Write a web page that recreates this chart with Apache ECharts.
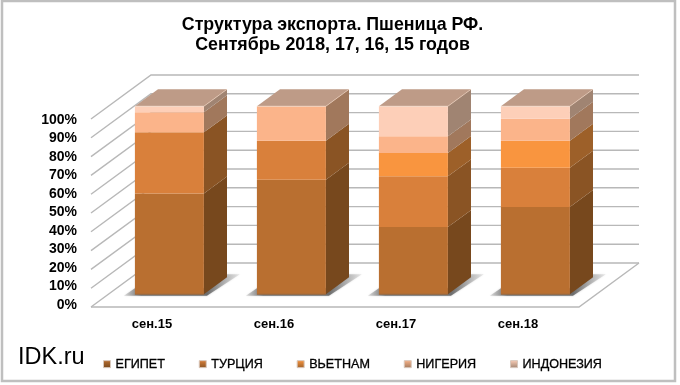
<!DOCTYPE html>
<html><head><meta charset="utf-8">
<style>html,body{margin:0;padding:0;background:#fff}#c{width:680px;height:385px}</style>
<script src="https://cdn.jsdelivr.net/npm/echarts@6/dist/echarts.min.js"></script>
</head><body><div id="c"></div>
<script>
const categories = ['сен.15','сен.16','сен.17','сен.18'];
const egypt     = [53.6, 60.9, 35.7, 46.4];
const turkey    = [32.5, 20.8, 27.0, 20.9];
const vietnam   = [0,    0,    12.4, 14.4];
const nigeria   = [10.7, 18.3, 8.9,  11.7];
const indonesia = [3.2,  0,    16.0, 6.6];
const ticks = [0,10,20,30,40,50,60,70,80,90,100];

const names = ['ЕГИПЕТ','ТУРЦИЯ','ВЬЕТНАМ','НИГЕРИЯ','ИНДОНЕЗИЯ'];
const valueLists = [egypt, turkey, vietnam, nigeria, indonesia];
const frontColors = ['#B96F30','#D9803B','#F9953F','#FBB48A','#FDCFB8'];
const sideColors  = ['#77481D','#8A5424','#9D6029','#A1785C','#A08472'];
const topColor = '#BE9B87';

// Depth of the 3D box, as offsets from the axis plane
const DX = 60, DY = -44;
const NEAR = 0.29, FAR = 0.675;
const BAR = 69;

function shift(p, d){ return [p[0] + DX*d, p[1] + DY*d]; }

function wallItem(params, api){
  const g = params.coordSys;
  const y = api.coord([0, api.value(0)])[1];
  const lineStyle = {stroke:'#B8B8B8', lineWidth:1.4, fill:null};
  const kids = [
    {type:'polyline', shape:{points:[[g.x,y],[g.x+DX,y+DY],[g.x+g.width+DX,y+DY]]}, style:lineStyle}
  ];
  if (api.value(0) === 0) {
    kids.push({type:'polyline', shape:{points:[[g.x,y],[g.x+g.width,y],[g.x+g.width+DX,y+DY]]}, style:lineStyle});
  }
  return {type:'group', children:kids};
}

function shadowItem(params, api){
  const c = api.coord([api.value(0), 0]);
  const f = shift(c, NEAR);
  const l = f[0]-BAR/2, r = f[0]+BAR/2, b = f[1];
  return {type:'polygon',
    shape:{points:[[l-11,b+1.5],[r+3,b+1.5],[r+36,b-20],[r+23,b-20],[r,b-6],[l,b-6]]},
    style:{fill:new echarts.graphic.LinearGradient(0,0,1,0,[
      {offset:0,color:'rgba(140,140,140,0.25)'},
      {offset:0.15,color:'rgba(100,100,100,0.9)'},
      {offset:0.72,color:'rgba(100,100,100,0.9)'},
      {offset:1,color:'rgba(170,170,170,0.2)'}]),
      shadowBlur:2,shadowColor:'rgba(120,120,120,0.5)'}};
}

function barItem(s){
  return function(params, api){
    const from = api.value(1), to = api.value(2);
    if (to - from <= 0) return null;
    const a = api.coord([api.value(0), from]);
    const b = api.coord([api.value(0), to]);
    const fa = shift(a, NEAR), fb = shift(b, NEAR);
    const l = fa[0]-BAR/2, r = fa[0]+BAR/2;
    const d = FAR - NEAR;
    const kids = [
      {type:'polygon', shape:{points:[[r,fa[1]],[r+DX*d,fa[1]+DY*d],[r+DX*d,fb[1]+DY*d],[r,fb[1]]]},
       style:{fill:sideColors[s]}},
      {type:'rect', shape:{x:l,y:fb[1],width:BAR,height:fa[1]-fb[1]},
       style:{fill:frontColors[s]}}
    ];
    if (from === 0) {
      kids.push({type:'line', shape:{x1:l,y1:fa[1],x2:r,y2:fa[1]}, style:{stroke:'#9A6A42',lineWidth:1}});
    }
    if (to >= 99.99) {
      kids.push({type:'polygon', shape:{points:[[l,fb[1]],[l+DX*d,fb[1]+DY*d],[r+DX*d,fb[1]+DY*d],[r,fb[1]]]},
        style:{fill:topColor}});
      kids.push({type:'line', shape:{x1:l,y1:fb[1],x2:r,y2:fb[1]}, style:{stroke:'rgba(255,235,220,0.55)',lineWidth:1}});
      kids.push({type:'line', shape:{x1:r,y1:fb[1],x2:r+DX*d,y2:fb[1]+DY*d}, style:{stroke:'rgba(235,205,185,0.7)',lineWidth:1}});
    }
    return {type:'group', children:kids};
  };
}

const barSeries = names.map((name, s) => {
  const data = categories.map((_, i) => {
    let from = 0;
    for (let k = 0; k < s; k++) from += valueLists[k][i];
    return [i, from, from + valueLists[s][i]];
  });
  return {type:'custom', name, xAxisIndex:0, yAxisIndex:0, z:5+s, renderItem:barItem(s),
    encode:{x:0,y:[1,2]}, itemStyle:{color:frontColors[s]}, data, clip:false, silent:true};
});

const chart = echarts.init(document.getElementById('c'), null, {renderer:'canvas'});
chart.setOption({
  animation:false,
  backgroundColor:'#fff',
  title:{
    text:'Структура экспорта. Пшеница РФ.\nСентябрь 2018, 17, 16, 15 годов',
    left:327.5, top:10, textAlign:'center',
    textStyle:{fontFamily:'Liberation Sans',fontSize:17.8,fontWeight:'bold',color:'#000',lineHeight:20}
  },
  legend:{
    left:98, top:352.5, itemWidth:7, itemHeight:7, itemGap:33.7,
    icon:'rect',
    textStyle:{fontFamily:'Liberation Sans',fontSize:12.6,color:'#000',padding:[0,0,0,0],
      textBorderColor:'#000',textBorderWidth:0.3},
    data:names.map((name,s)=>({name,itemStyle:{
      color:new echarts.graphic.LinearGradient(0,0,0,1,[{offset:0,color:frontColors[s]},{offset:1,color:sideColors[s]}]),
      borderColor:'#D8C8BC',borderWidth:1}}))
  },
  grid:[
    {left:91, top:119, width:488, height:188},
    {left:91, top:120, width:488, height:185}
  ],
  xAxis:[
    {type:'category', data:categories, gridIndex:0,
     axisLine:{show:false}, axisTick:{show:false},
     axisLabel:{fontFamily:'Liberation Sans',fontSize:13,fontWeight:'bold',color:'#000',margin:11}},
    {type:'category', data:categories, gridIndex:1, show:false}
  ],
  yAxis:[
    {type:'value', min:0, max:100, interval:10, gridIndex:0, show:false},
    {type:'value', min:0, max:100, interval:10, gridIndex:1,
     axisLine:{show:false}, axisTick:{show:false}, splitLine:{show:false},
     axisLabel:{formatter:'{value}%',fontFamily:'Liberation Sans',fontSize:14,fontWeight:'bold',color:'#000',margin:14}}
  ],
  graphic:[
    {type:'rect', z:-1, shape:{x:2,y:1,width:673,height:380}, style:{fill:'#fff',stroke:'#BFBFBF',lineWidth:2.5}},
    {type:'text', left:18, top:346, style:{text:'IDK.ru',fontFamily:'Liberation Sans',fontSize:23.5,fill:'#000'}}
  ],
  series:[
    {type:'custom', name:'walls', xAxisIndex:0, yAxisIndex:0, z:1, renderItem:wallItem, encode:{y:0},
     data:ticks.map(t=>[t]), clip:false, silent:true},
    {type:'custom', name:'shadow', xAxisIndex:0, yAxisIndex:0, z:2, renderItem:shadowItem,
     encode:{x:0}, data:categories.map((_,i)=>[i]), clip:false, silent:true},
    ...barSeries
  ]
});
</script></body></html>
